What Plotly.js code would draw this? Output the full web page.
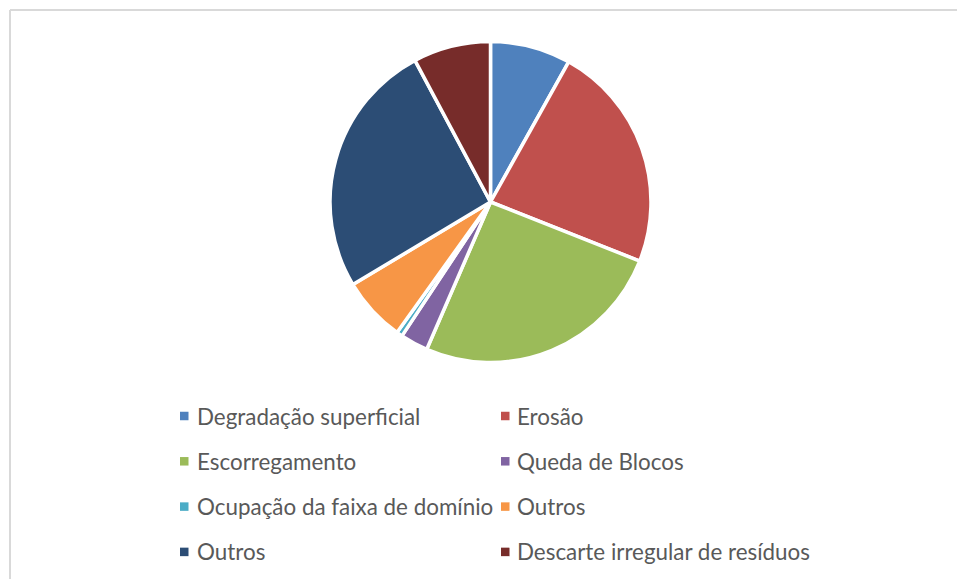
<!DOCTYPE html>
<html><head><meta charset="utf-8">
<script src="https://cdn.plot.ly/plotly-3.0.1.min.js"></script>
<style>html,body{margin:0;padding:0;background:#fff}#chart{width:957px;height:579px}</style>
</head><body><div id="chart"></div>
<script>
const categories = ["Degradação superficial","Erosão","Escorregamento","Queda de Blocos","Ocupação da faixa de domínio","Outros","Outros","Descarte irregular de resíduos"];
const values = [8.1, 22.9, 25.5, 2.8, 0.6, 6.5, 25.8, 7.8];
const colors = ["#4F81BD","#C0504D","#9BBB59","#8064A2","#4BACC6","#F79646","#2C4D75","#772C2A"];

const W = 957, H = 579;
const px = x => x / W;
const py = y => 1 - y / H;

const trace = {
  type: 'pie',
  values: values,
  labels: categories.map((c, i) => 'slice' + i),
  hovertext: categories,
  hoverinfo: 'text+percent',
  sort: false,
  direction: 'clockwise',
  rotation: 0,
  textinfo: 'none',
  marker: {colors: colors, line: {color: '#ffffff', width: 3.5}},
  domain: {x: [px(330), px(651)], y: [py(363), py(41)]},
  showlegend: false
};

const shapes = [
  {type:'line', xref:'paper', yref:'paper', x0:px(10), x1:px(957), y0:py(10), y1:py(10), line:{color:'#D9D9D9', width:2}},
  {type:'line', xref:'paper', yref:'paper', x0:px(10), x1:px(10), y0:py(10), y1:py(579), line:{color:'#D9D9D9', width:2}}
];
const annotations = [];
const colSq = [180, 501], colTx = [195, 515];
categories.forEach((c, i) => {
  const row = Math.floor(i / 2), col = i % 2;
  const yc = 416 + row * 45.3;
  shapes.push({type:'rect', xref:'paper', yref:'paper', x0:px(colSq[col]), x1:px(colSq[col] + 8.5), y0:py(yc - 4.25), y1:py(yc + 4.25), fillcolor: colors[i], line:{width:0}});
  annotations.push({text: c, xref:'paper', yref:'paper', x: px(colTx[col]), y: py(yc), xanchor:'left', yanchor:'middle', showarrow:false, font:{family:'Lato', size:22.4, color:'#595959'}});
});

Plotly.newPlot('chart', [trace], {
  width: W, height: H,
  margin: {l:0, r:0, t:0, b:0},
  paper_bgcolor: '#ffffff',
  shapes: shapes,
  annotations: annotations
}, {displayModeBar: false, staticPlot: true});
</script></body></html>
